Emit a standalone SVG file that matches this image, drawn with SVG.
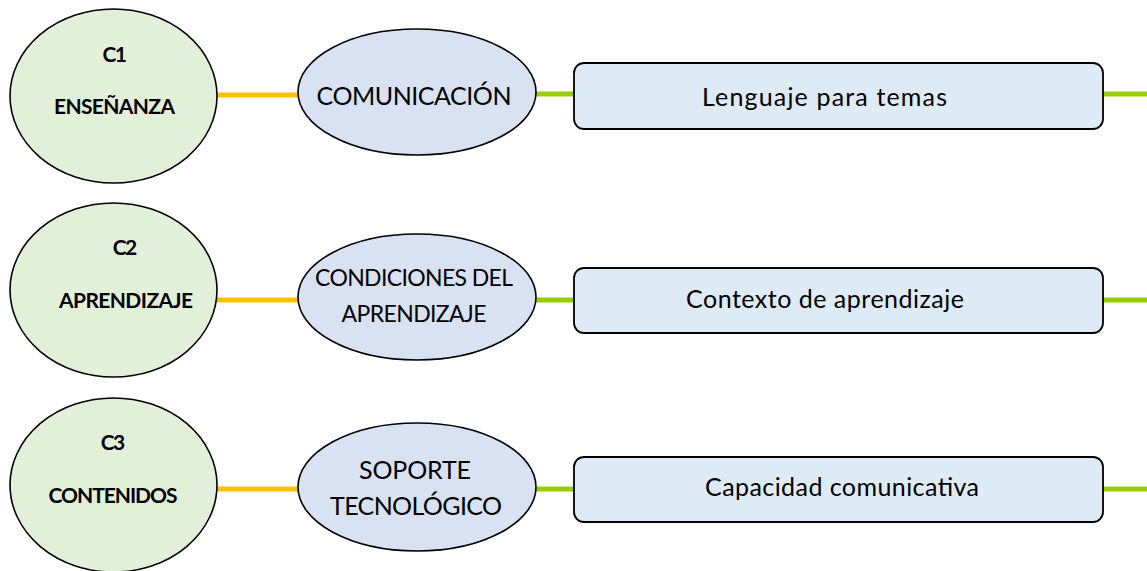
<svg xmlns="http://www.w3.org/2000/svg" width="1147" height="571" viewBox="0 0 1147 571">
<style>
.bg{fill:#ffffff}
.circ{fill:#E2EFD9;stroke:#000;stroke-width:1.6}
.ell{fill:#D9E2F3;stroke:#000;stroke-width:1.6}
.box{fill:#DEEAF6;stroke:#000;stroke-width:1.8}
.or{stroke:#FFC000;stroke-width:5;fill:none}
.gr{stroke:#99CC00;stroke-width:5;fill:none}
.b{font-family:Lato,"Liberation Sans",sans-serif;font-weight:bold;font-size:21px;fill:#000}
.t{font-family:Lato,"Liberation Sans",sans-serif;font-size:25px;fill:#000}
.t2{font-family:Lato,"Liberation Sans",sans-serif;font-size:23px;fill:#000}
</style>
<rect class="bg" x="0" y="0" width="1147" height="571"/>
<g id="connectors">
<line class="or" x1="216" y1="95" x2="299" y2="95"/>
<line class="gr" x1="535" y1="94" x2="575" y2="94"/>
<line class="gr" x1="1102" y1="94" x2="1147" y2="94"/>
<line class="or" x1="216" y1="300" x2="299" y2="300"/>
<line class="gr" x1="535" y1="300" x2="575" y2="300"/>
<line class="gr" x1="1102" y1="300" x2="1147" y2="300"/>
<line class="or" x1="216" y1="489" x2="299" y2="489"/>
<line class="gr" x1="535" y1="489" x2="575" y2="489"/>
<line class="gr" x1="1102" y1="489" x2="1147" y2="489"/>
</g>
<g id="c1">
<ellipse class="circ" cx="113.5" cy="96" rx="103.5" ry="87"/>
<text class="b" x="114.7" y="62" text-anchor="middle" textLength="24.5">C1</text>
<text class="b" x="114.5" y="114" text-anchor="middle" textLength="121">ENSEÑANZA</text>
</g>
<g id="c2">
<ellipse class="circ" cx="113.5" cy="290" rx="103.5" ry="87"/>
<text class="b" x="125" y="255" text-anchor="middle" textLength="24.5">C2</text>
<text class="b" x="126" y="308" text-anchor="middle" textLength="134">APRENDIZAJE</text>
</g>
<g id="c3">
<ellipse class="circ" cx="113.5" cy="485" rx="103.5" ry="87"/>
<text class="b" x="113" y="450" text-anchor="middle" textLength="24.5">C3</text>
<text class="b" x="113" y="503" text-anchor="middle" textLength="129">CONTENIDOS</text>
</g>
<g id="e1">
<ellipse class="ell" cx="417" cy="92" rx="119" ry="63"/>
<text class="t" x="414" y="105" text-anchor="middle" textLength="195">COMUNICACIÓN</text>
</g>
<g id="e2">
<ellipse class="ell" cx="417" cy="297" rx="119" ry="63"/>
<text class="t2" x="414" y="286" text-anchor="middle" textLength="198">CONDICIONES DEL</text>
<text class="t2" x="414" y="322" text-anchor="middle" textLength="145">APRENDIZAJE</text>
</g>
<g id="e3">
<ellipse class="ell" cx="417" cy="487" rx="119" ry="64"/>
<text class="t" x="415" y="479" text-anchor="middle" textLength="112">SOPORTE</text>
<text class="t" x="416" y="515" text-anchor="middle" textLength="172">TECNOLÓGICO</text>
</g>
<g id="b1">
<rect class="box" x="574" y="63" width="529" height="66" rx="10"/>
<text class="t" x="702" y="106" textLength="245">Lenguaje para temas</text>
</g>
<g id="b2">
<rect class="box" x="574" y="268" width="529" height="65" rx="10"/>
<text class="t" x="686" y="308" textLength="278">Contexto de aprendizaje</text>
</g>
<g id="b3">
<rect class="box" x="574" y="457" width="529" height="65" rx="10"/>
<text class="t" x="705" y="496" textLength="274">Capacidad comunicativa</text>
</g>
</svg>
